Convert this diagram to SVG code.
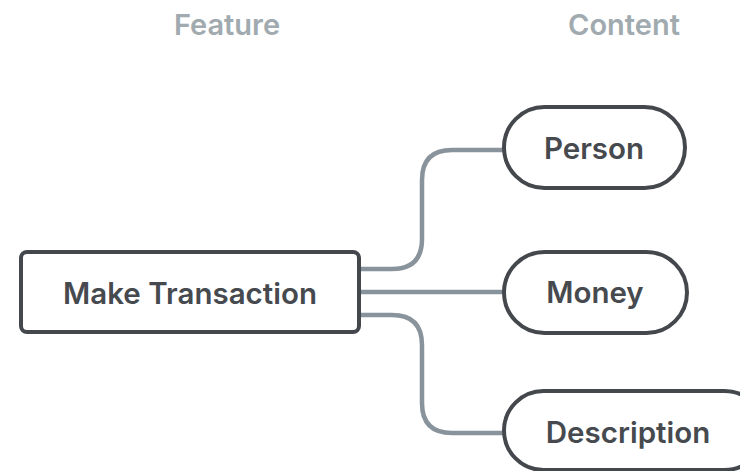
<svg xmlns="http://www.w3.org/2000/svg" width="740" height="471" viewBox="0 0 740 471">
<style>
.hdr{font-family:Inter,"Liberation Sans",Arial,sans-serif;font-weight:600;font-size:29px;fill:#a0aaaf;text-anchor:middle}
.lbl{font-family:Inter,"Liberation Sans",Arial,sans-serif;font-size:29.5px;fill:#464a4f;text-anchor:middle;font-weight:600}
.node{fill:#fff;stroke:#44484c;stroke-width:4}
.conn{fill:none;stroke:#89939b;stroke-width:4.5}
</style>
<rect width="740" height="471" fill="#fff"/>
<text class="hdr" x="227" y="35">Feature</text>
<text class="hdr" x="624" y="35">Content</text>
<g id="connectors">
<path class="conn" d="M360 269 H392 Q422 269 422 239 V180 Q422 150 452 150 H505"/>
<path class="conn" d="M360 292 H505"/>
<path class="conn" d="M360 315 H392 Q422 315 422 345 V403 Q422 433 452 433 H505"/>
</g>
<g id="make-transaction">
<rect class="node" x="21" y="252" width="338" height="80" rx="6"/>
<text class="lbl" x="190" y="304">Make Transaction</text>
</g>
<g id="person">
<rect class="node" x="504" y="107" width="181" height="81" rx="40.5"/>
<text class="lbl" x="594" y="159">Person</text>
</g>
<g id="money">
<rect class="node" x="504" y="252" width="183" height="81" rx="40.5"/>
<text class="lbl" x="595" y="303">Money</text>
</g>
<g id="description">
<rect class="node" x="504" y="391" width="260" height="79" rx="39.5"/>
<text class="lbl" x="628" y="443">Description</text>
</g>
</svg>
